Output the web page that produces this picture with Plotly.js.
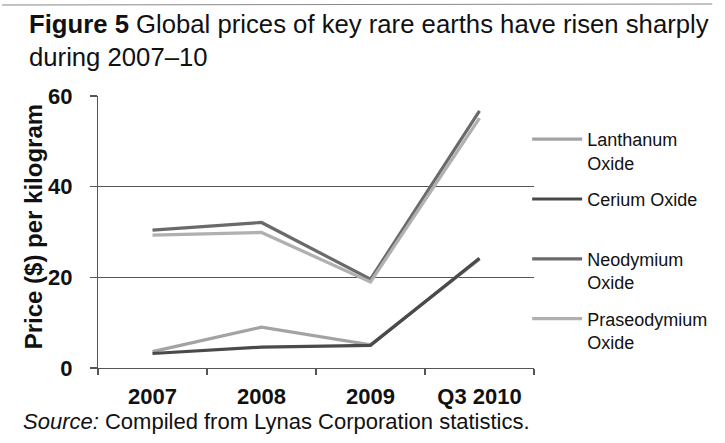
<!DOCTYPE html>
<html>
<head>
<meta charset="utf-8">
<script src="https://cdn.plot.ly/plotly-3.0.1.min.js"></script>
<style>html,body{margin:0;padding:0;background:#fff;}#chart{width:725px;height:443px;}</style>
</head>
<body>
<div id="chart"></div>
<script>
var categories = ["2007", "2008", "2009", "Q3 2010"];
var lanthanum = [3.6, 9.0, 5.1, 24.0];
var cerium = [3.2, 4.6, 5.0, 24.2];
var neodymium = [30.4, 32.1, 19.6, 56.7];
var praseodymium = [29.3, 29.9, 19.0, 55.1];
var seriesNames = ["Lanthanum<br>Oxide", "Cerium Oxide<br> ", "Neodymium<br>Oxide", "Praseodymium<br>Oxide"];
var yTicks = [0, 20, 40, 60];

var W = 725, H = 443, L = 98, R = 182, T = 96, B = 75;
var pw = W - L - R, ph = H - T - B;
function px2x(p) { return (p - L) / pw; }
function px2y(p) { return (H - B - p) / ph; }

var colors = ["#a3a3a3", "#4a4a4a", "#6a6a6a", "#b0b0b0"];
var data = [lanthanum, cerium, neodymium, praseodymium].map(function (vals, i) {
  return {
    type: "scatter", mode: "lines", x: categories, y: vals,
    name: seriesNames[i], legendgroup: "g" + i,
    line: { color: colors[i], width: 3.2 }
  };
});

var font = "Liberation Sans, Arial, sans-serif";
var layout = {
  width: W, height: H,
  margin: { l: L, r: R, t: T, b: B, pad: 0 },
  paper_bgcolor: "#ffffff", plot_bgcolor: "#ffffff",
  showlegend: true,
  title: {
    text: "<b>Figure 5</b> Global prices of key rare earths have risen sharply<br>during 2007–10",
    font: { family: font, size: 25.7, color: "#111" },
    xref: "container", yref: "container",
    x: 29 / W, xanchor: "left", y: 1 - 33 / H, yanchor: "top"
  },
  xaxis: {
    type: "category", range: [-0.5, 3.5],
    showline: true, linecolor: "#555", linewidth: 1.2,
    ticks: "outside", tickson: "boundaries", ticklen: 6, tickcolor: "#555", tickwidth: 1.2,
    tickfont: { family: font, size: 22, color: "#111", weight: "bold" },
    ticklabelstandoff: 8,
    showgrid: false, zeroline: false, fixedrange: true
  },
  yaxis: {
    range: [0, 60], tickvals: yTicks, ticktext: yTicks.map(String),
    showline: true, linecolor: "#555", linewidth: 1.2,
    ticks: "outside", ticklen: 7, tickcolor: "#555", tickwidth: 1.2,
    showgrid: true, gridcolor: "#555", gridwidth: 1.2,
    zeroline: false,
    tickfont: { family: font, size: 22, color: "#111", weight: "bold" },
    ticklabelstandoff: 13,
    fixedrange: true
  },
  legend: {
    x: px2x(536), xanchor: "left", y: px2y(121), yanchor: "top",
    font: { family: font, size: 18, color: "#111" },
    valign: "top", tracegroupgap: 10, itemwidth: 50,
    bgcolor: "rgba(0,0,0,0)"
  },
  annotations: [{
    xref: "paper", yref: "paper", x: px2x(19), y: px2y(421),
    xanchor: "left", yanchor: "middle", showarrow: false,
    text: "<i>Source:</i> Compiled from Lynas Corporation statistics.",
    font: { family: font, size: 22, color: "#111" }
  }, {
    xref: "paper", yref: "paper", x: px2x(32), y: px2y(227),
    xanchor: "center", yanchor: "middle", showarrow: false, textangle: -90,
    text: "<b>Price ($) per kilogram</b>",
    font: { family: font, size: 24, color: "#111" }
  }],
  shapes: [{
    type: "line", xref: "paper", yref: "paper",
    x0: px2x(0), x1: px2x(W), y0: px2y(5), y1: px2y(4),
    line: { color: "#888", width: 1 }
  }]
};

Plotly.newPlot("chart", data, layout, { displayModeBar: false, staticPlot: true });
</script>
</body>
</html>
